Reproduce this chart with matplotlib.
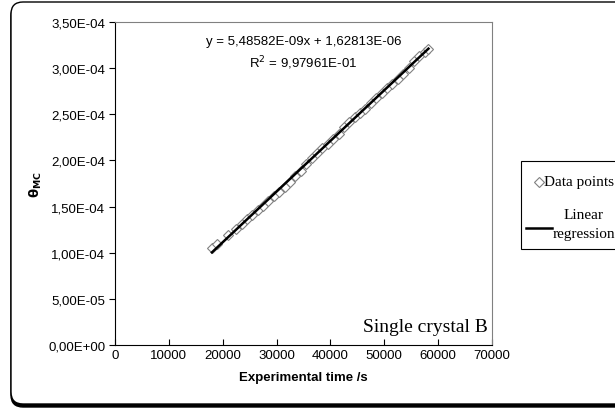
import matplotlib.pyplot as plt
import matplotlib.patches as mpatches
from matplotlib.lines import Line2D
import numpy as np

# data
time_s = [18000, 19000, 21000, 22500, 23500, 24500, 25500, 26500, 27500, 28500,
          29500, 30500, 31500, 32500, 33500, 34500, 35500, 36500, 37500, 38500,
          39500, 40500, 41500, 42500, 43500, 44500, 45500, 46500, 47500, 48500,
          49500, 50500, 51500, 52500, 53500, 54500, 55500, 56500, 57500, 58200]
theta_mc = [1.05e-4, 1.09e-4, 1.19e-4, 1.26e-4, 1.31e-4, 1.36e-4, 1.41e-4, 1.46e-4, 1.51e-4, 1.565e-4,
            1.61e-4, 1.66e-4, 1.71e-4, 1.77e-4, 1.83e-4, 1.89e-4, 1.96e-4, 2.03e-4, 2.08e-4, 2.13e-4,
            2.18e-4, 2.23e-4, 2.29e-4, 2.36e-4, 2.42e-4, 2.47e-4, 2.51e-4, 2.56e-4, 2.62e-4, 2.68e-4,
            2.73e-4, 2.78e-4, 2.83e-4, 2.88e-4, 2.94e-4, 3.00e-4, 3.07e-4, 3.13e-4, 3.17e-4, 3.20e-4]
fit_slope = 5.48582e-09
fit_intercept = 1.62813e-06
y_ticks = [0, 5e-5, 1e-4, 1.5e-4, 2e-4, 2.5e-4, 3e-4, 3.5e-4]
y_labels = ["0,00E+00", "5,00E-05", "1,00E-04", "1,50E-04", "2,00E-04", "2,50E-04", "3,00E-04", "3,50E-04"]
x_ticks = [0, 10000, 20000, 30000, 40000, 50000, 60000, 70000]

sans = "Liberation Sans"
serif = "Liberation Serif"
W, H = 615, 414

fig = plt.figure(figsize=(6.15, 4.14), dpi=100)

# outer rounded frame with a shadow at the bottom
shadow = mpatches.FancyBboxPatch((11, 6), 700, 403, boxstyle="round,pad=0,rounding_size=12",
                                 transform=None, facecolor="black", edgecolor="black", lw=1, zorder=-20)
frame = mpatches.FancyBboxPatch((11, 9), 700, 402, boxstyle="round,pad=0,rounding_size=12",
                                transform=None, facecolor="white", edgecolor="black", lw=1, zorder=-10)
fig.patches.append(shadow)
fig.patches.append(frame)

ax = fig.add_axes([0.187, 0.164, 0.613, 0.781])
ax.set_facecolor("none")
ax.set_xlim(0, 70000)
ax.set_ylim(0, 3.5e-4)

ax.plot(time_s, theta_mc, linestyle="none", marker="D", markersize=5,
        markerfacecolor="white", markeredgecolor="#808080", markeredgewidth=0.8)
xfit = np.array([time_s[0], time_s[-1]])
ax.plot(xfit, fit_slope * xfit + fit_intercept, color="black", lw=1.8)

ax.set_xticks(x_ticks)
ax.set_xticklabels([str(v) for v in x_ticks], fontfamily=sans, fontsize=9.5)
ax.set_yticks(y_ticks)
ax.set_yticklabels(y_labels, fontfamily=sans, fontsize=9.5)
ax.tick_params(axis="x", direction="in", length=4, pad=3)
ax.tick_params(axis="y", direction="out", length=4, pad=3)

for s in ["top", "right"]:
    ax.spines[s].set_color("#808080")
for s in ["left", "bottom"]:
    ax.spines[s].set_color("black")

ax.set_xlabel("Experimental time /s", fontfamily=sans, fontweight="bold", fontsize=9.5, labelpad=7)
ax.set_ylabel(r"$\mathbf{\theta_{MC}}$", fontsize=9.5, labelpad=3)

ax.text(0.5, 0.94, "y = 5,48582E-09x + 1,62813E-06", transform=ax.transAxes,
        ha="center", va="center", fontfamily=sans, fontsize=9.5)
ax.text(0.5, 0.875, "R$^2$ = 9,97961E-01", transform=ax.transAxes,
        ha="center", va="center", fontfamily=sans, fontsize=9.5)
ax.text(0.99, 0.03, "Single crystal B", transform=ax.transAxes,
        ha="right", va="bottom", fontfamily=serif, fontsize=14)

# legend box, laid out like the original (runs off the right edge)
fig.patches.append(mpatches.Rectangle((521 / W, 1 - 250 / H), 120 / W, 88 / H, transform=fig.transFigure,
                                      facecolor="white", edgecolor="black", lw=0.8))
fig.lines.append(Line2D([539 / W], [1 - 183 / H], transform=fig.transFigure, linestyle="none",
                        marker="D", markersize=5, markerfacecolor="white",
                        markeredgecolor="#808080", markeredgewidth=0.8))
fig.text(544 / W, 1 - 183 / H, "Data points", ha="left", va="center", fontfamily=serif, fontsize=11)
fig.lines.append(Line2D([526 / W, 552 / W], [1 - 229 / H, 1 - 229 / H], transform=fig.transFigure,
                        color="black", lw=1.8))
fig.text(584 / W, 1 - 225 / H, "Linear\nregression", ha="center", va="center", ma="center",
         fontfamily=serif, fontsize=11, linespacing=1.6)

fig.savefig("out.png", dpi=100)
